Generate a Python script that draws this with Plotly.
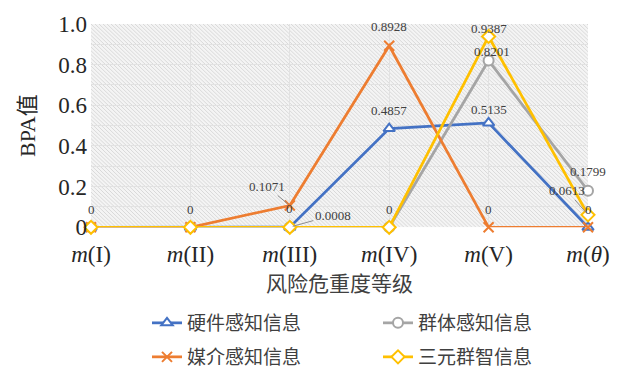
import base64
import plotly.graph_objects as go

# Risk severity levels (x axis) and BPA values for each information source
levels = ["<i>m</i>(I)", "<i>m</i>(II)", "<i>m</i>(III)", "<i>m</i>(IV)", "<i>m</i>(V)", "<i>m</i>(<i>θ</i>)"]
hardware = [0, 0, 0.0008, 0.4857, 0.5135, 0]
crowd = [0, 0, 0, 0, 0.8201, 0.1799]
media = [0, 0, 0.1071, 0.8928, 0, 0]
ternary = [0, 0, 0, 0, 0.9387, 0.0613]

names = ["硬件感知信息", "群体感知信息", "媒介感知信息", "三元群智信息"]
series = [hardware, crowd, media, ternary]
colors = ["#4472C4", "#A5A5A5", "#ED7D31", "#FFC000"]
symbols = ["triangle-up", "circle", "x-thin", "diamond"]
legend_ids = ["legend", "legend2", "legend3", "legend4"]
# legend slot (left px, centre px) in a 2x2 grid under the chart
legend_pos = [(147, 323), (378, 323), (147, 357), (378, 357)]

xs = list(range(len(levels)))

fig = go.Figure()
for vals, name, col, sym, lg in zip(series, names, colors, symbols, legend_ids):
    is_x = sym.startswith("x")
    fig.add_trace(go.Scatter(
        x=xs, y=vals, name=name, mode="lines+markers",
        line=dict(color=col, width=2.75),
        marker=dict(symbol=sym, size=10,
                    color="white" if not is_x else col,
                    line=dict(color=col, width=2)),
        cliponaxis=False, legend=lg,
    ))

# Value labels: (series index, level index, text dx, text dy, leader line)
label_specs = [
    (0, 0, 0, -18, False),
    (0, 1, 0, -18, False),
    (3, 2, 0, -19, False),
    (2, 2, -23, -19, True),
    (0, 2, 43, -12, True),
    (2, 3, 0, -19, False),
    (0, 3, 0, -18, False),
    (3, 3, 0, -18, False),
    (3, 4, 0, -8, False),
    (1, 4, 3, -9, False),
    (0, 4, 0, -13, False),
    (2, 4, 0, -18, False),
    (1, 5, 0, -19, False),
    (3, 5, -21, -24, True),
    (0, 5, 0, -18, False),
]

def fmt(v):
    return f"{v:g}"

label_font = dict(family="Liberation Serif", size=13, color="#404040")
for si, li, dx, dy, leader in label_specs:
    v = series[si][li]
    if leader:
        fig.add_annotation(x=xs[li], y=v, text=fmt(v), showarrow=True,
                           ax=dx, ay=dy, arrowhead=0, arrowwidth=1,
                           arrowcolor="#8c8c8c", standoff=3,
                           font=label_font)
    else:
        fig.add_annotation(x=xs[li], y=v, text=fmt(v), showarrow=False,
                           xshift=dx, yshift=-dy, font=label_font)

# Diagonal hatch fill for the plotting area
W, H = 497, 213
svg = f'''<svg xmlns="http://www.w3.org/2000/svg" width="{W}" height="{H}" viewBox="0 0 {W} {H}" preserveAspectRatio="none">
<defs><pattern id="h" patternUnits="userSpaceOnUse" width="4" height="4">
<rect width="4" height="4" fill="#f4f4f4"/>
<path d="M-1,-1 l2,2 M0,0 l4,4 M3,3 l2,2" stroke="#d8d8d8" stroke-width="1"/>
</pattern></defs>
<rect width="{W}" height="{H}" fill="url(#h)"/></svg>'''
uri = "data:image/svg+xml;base64," + base64.b64encode(svg.encode()).decode()
fig.add_layout_image(source=uri, xref="paper", yref="paper", x=0, y=1,
                     sizex=1, sizey=1, xanchor="left", yanchor="top",
                     sizing="stretch", layer="below")

serif = "Liberation Serif, Times New Roman, serif"
cjk = "Noto Sans CJK SC"

legends = {}
for lg, (lx, ly) in zip(legend_ids, legend_pos):
    legends[lg] = dict(
        orientation="h", xref="container", yref="container",
        x=lx / 624, y=1 - ly / 372, xanchor="left", yanchor="middle",
        borderwidth=0, bgcolor="rgba(0,0,0,0)",
        font=dict(family=cjk, size=19, color="#404040"),
    )

fig.update_layout(
    width=624, height=372,
    margin=dict(l=91, r=36, t=17, b=142),
    paper_bgcolor="white", plot_bgcolor="rgba(0,0,0,0)",
    showlegend=True,
    xaxis=dict(
        tickmode="array", tickvals=xs, ticktext=levels, range=[0, 5],
        showgrid=True, gridcolor="#e2e2e2", gridwidth=1,
        zeroline=False, showline=False, ticks="", ticklabelstandoff=11,
        tickfont=dict(family=serif, size=23, color="#262626"),
        title=dict(text="风险危重度等级", font=dict(family=cjk, size=21, color="#404040"),
                   standoff=10),
    ),
    yaxis=dict(
        range=[0, 1], tickmode="array", tickvals=[0, 0.2, 0.4, 0.6, 0.8, 1.0],
        ticktext=["0", "0.2", "0.4", "0.6", "0.8", "1.0"],
        showgrid=True, gridcolor="#e2e2e2", gridwidth=1,
        minor=dict(dtick=0.1, showgrid=True, gridcolor="#e2e2e2", gridwidth=1),
        zeroline=False, showline=False, ticks="", ticklabelstandoff=3,
        tickfont=dict(family=serif, size=23, color="#262626"),
        title=dict(text="BPA值", font=dict(family=serif + ", " + cjk, size=22, color="#262626"),
                   standoff=16),
    ),
    **legends,
)

fig.write_html("out.html")
